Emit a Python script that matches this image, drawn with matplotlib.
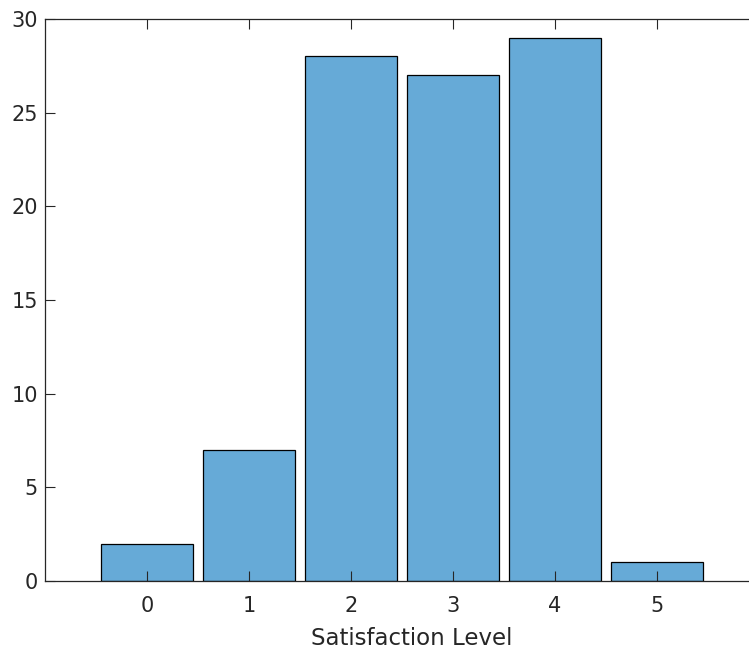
import matplotlib.pyplot as plt
import matplotlib
import numpy as np

matplotlib.rcParams['font.family'] = 'DejaVu Sans'

levels = [0, 1, 2, 3, 4, 5]
counts = [2, 7, 28, 27, 29, 1]

fig = plt.figure(figsize=(7.49, 6.5), dpi=100)
# axes runs past the right edge of the figure
ax = fig.add_axes([45 / 749, 69 / 650, 714 / 749, 562 / 650])

ax.bar(levels, counts, width=0.9, color=(0.4, 0.668, 0.845),
       edgecolor='black', linewidth=0.9)

ax.set_xlim(-1, 6)
ax.set_ylim(0, 30)
ax.set_xticks(levels)
ax.set_yticks(np.arange(0, 31, 5))

grey = '#262626'
for s in ax.spines.values():
    s.set_color(grey)
    s.set_linewidth(0.9)
ax.tick_params(direction='in', length=7, width=0.8, color=grey,
               labelcolor=grey, labelsize=15, top=True, right=True)
ax.tick_params(axis='x', pad=11)
ax.tick_params(axis='y', pad=5)
ax.set_xlabel('Satisfaction Level', fontsize=16.5, color=grey)
ax.xaxis.set_label_coords(0.514, -0.103)
ax.xaxis.label.set_va('center')

fig.savefig('out.png', dpi=100)
